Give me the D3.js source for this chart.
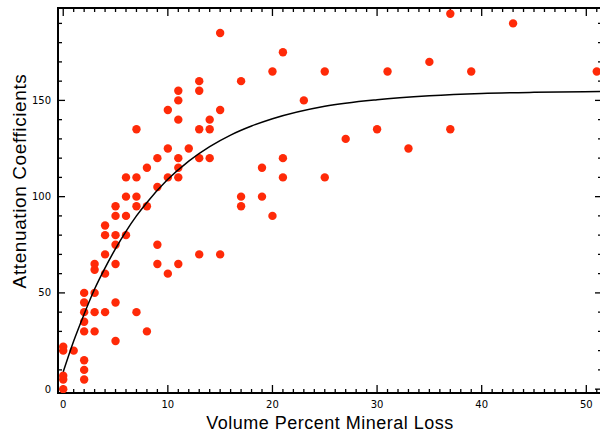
<!DOCTYPE html>
<html>
<head>
<meta charset="utf-8">
<script src="https://cdn.jsdelivr.net/npm/d3@7"></script>
<style>
  body { margin: 0; background: #ffffff; }
  svg { display: block; }
</style>
</head>
<body>
<svg id="mySVG" width="600" height="433"></svg>
<script>
// measured points: volume percent mineral loss vs attenuation coefficient
const lossValues = [
  0, 0, 0, 0, 0,
  1,
  2, 2, 2, 2, 2, 2, 2, 2,
  3, 3, 3, 3, 3,
  4, 4, 4, 4, 4,
  5, 5, 5, 5, 5, 5, 5,
  6, 6, 6, 6,
  7, 7, 7, 7, 7,
  8, 8, 8,
  9, 9, 9, 9,
  10, 10, 10, 10,
  11, 11, 11, 11, 11, 11, 11,
  12,
  13, 13, 13, 13, 13,
  14, 14, 14,
  15, 15, 15,
  17, 17, 17,
  19, 19,
  20, 20,
  21, 21, 21,
  23,
  25, 25,
  27, 30, 31, 33, 35,
  37, 37,
  39, 43, 51
];
const attenuationValues = [
  0, 5, 7, 20, 22,
  20,
  5, 10, 15, 30, 35, 40, 45, 50,
  30, 40, 50, 62, 65,
  40, 60, 70, 80, 85,
  25, 45, 65, 75, 80, 90, 95,
  80, 90, 100, 110,
  40, 95, 100, 110, 135,
  30, 95, 115,
  65, 75, 105, 120,
  60, 110, 125, 145,
  65, 110, 115, 120, 140, 150, 155,
  125,
  70, 120, 135, 155, 160,
  120, 135, 140,
  70, 145, 185,
  95, 100, 160,
  100, 115,
  90, 165,
  110, 120, 175,
  150,
  110, 165,
  130, 135, 165, 125, 170,
  135, 195,
  165, 190, 165
];

// fitted curve
const fitLoss = [0, 1, 2, 3, 4, 5, 6, 7, 8, 10, 12, 14, 16, 18, 20, 25, 30, 35, 40, 45, 51.5];
const fitAttenuation = [9, 25, 39, 52, 63, 73, 82, 90, 97, 109, 118.5, 126, 132, 136.7, 140.5, 147, 150.4, 152.4, 153.6, 154.2, 154.6];

const xTicks = [0, 10, 20, 30, 40, 50];
const yTicks = [0, 50, 100, 150];

const svg = d3.select("#mySVG");

const plotL = 58, plotR = 602, plotT = 8, plotB = 393;
const x = d3.scaleLinear().domain([-0.5, 51.5]).range([plotL, plotR]);
const y = d3.scaleLinear().domain([-2, 198]).range([plotB, plotT]);

svg.append("defs")
  .append("clipPath")
  .attr("id", "plotClip")
  .append("rect")
  .attr("x", plotL)
  .attr("y", plotT)
  .attr("width", plotR - plotL)
  .attr("height", plotB - plotT);

const xMinor = d3.range(0, 52, 1).filter(v => v % 10 !== 0);
const yMinor = d3.range(0, 199, 10).filter(v => v % 50 !== 0);

// inward ticks on all four sides
const tickGroup = svg.append("g").attr("stroke", "#000").attr("stroke-width", 1.3);

function hTicks(vals, len, yPos, dir) {
  vals.forEach(v => {
    tickGroup.append("line")
      .attr("x1", x(v)).attr("x2", x(v))
      .attr("y1", yPos).attr("y2", yPos + dir * len);
  });
}
function vTicks(vals, len, xPos, dir) {
  vals.forEach(v => {
    tickGroup.append("line")
      .attr("y1", y(v)).attr("y2", y(v))
      .attr("x1", xPos).attr("x2", xPos + dir * len);
  });
}
hTicks(xTicks, 8, plotB, -1);
hTicks(xMinor, 4, plotB, -1);
hTicks(xTicks, 8, plotT, 1);
hTicks(xMinor, 4, plotT, 1);
vTicks(yTicks, 7, plotL, 1);
vTicks(yMinor, 4, plotL, 1);
vTicks(yTicks, 7, plotR, -1);
vTicks(yMinor, 4, plotR, -1);

// frame
svg.append("rect")
  .attr("x", plotL)
  .attr("y", plotT)
  .attr("width", plotR - plotL)
  .attr("height", plotB - plotT)
  .attr("fill", "none")
  .attr("stroke", "#000")
  .attr("stroke-width", 2);

// points
const points = lossValues.map((v, i) => [v, attenuationValues[i]]);
svg.append("g")
  .attr("clip-path", "url(#plotClip)")
  .selectAll("circle")
  .data(points)
  .enter()
  .append("circle")
  .attr("cx", d => x(d[0]))
  .attr("cy", d => y(d[1]))
  .attr("r", 4.2)
  .attr("fill", "#ff2a08");

// fit line
const line = d3.line()
  .x(d => x(d[0]))
  .y(d => y(d[1]))
  .curve(d3.curveMonotoneX);

svg.append("path")
  .datum(fitLoss.map((v, i) => [v, fitAttenuation[i]]))
  .attr("clip-path", "url(#plotClip)")
  .attr("d", line)
  .attr("fill", "none")
  .attr("stroke", "#000")
  .attr("stroke-width", 1.5);

// tick labels
svg.append("g")
  .selectAll("text")
  .data(xTicks)
  .enter()
  .append("text")
  .attr("x", d => x(d))
  .attr("y", 408)
  .attr("text-anchor", "middle")
  .attr("font-family", "DejaVu Sans")
  .attr("font-size", "10px")
  .text(d => d);

svg.append("g")
  .selectAll("text")
  .data(yTicks)
  .enter()
  .append("text")
  .attr("x", 51)
  .attr("y", d => y(d))
  .attr("text-anchor", "end")
  .attr("dominant-baseline", "central")
  .attr("font-family", "DejaVu Sans")
  .attr("font-size", "10px")
  .text(d => d);

// axis titles
svg.append("text")
  .attr("x", 330)
  .attr("y", 428.5)
  .attr("text-anchor", "middle")
  .attr("font-family", "Liberation Sans")
  .attr("font-size", "18px")
  .attr("letter-spacing", "0.5px")
  .text("Volume Percent Mineral Loss");

svg.append("text")
  .attr("transform", "translate(19,181) rotate(-90)")
  .attr("text-anchor", "middle")
  .attr("dominant-baseline", "central")
  .attr("font-family", "Liberation Sans")
  .attr("font-size", "19px")
  .attr("letter-spacing", "0.6px")
  .text("Attenuation Coefficients");
</script>
</body>
</html>
